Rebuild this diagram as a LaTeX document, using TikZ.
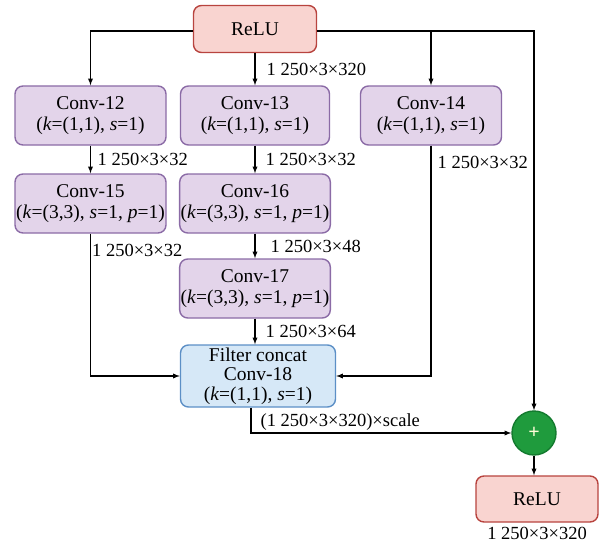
\documentclass[tikz,border=0pt]{standalone}
\usepackage{fontspec}
\setmainfont{Liberation Serif}
\usetikzlibrary{shapes, arrows, positioning}
\definecolor{reluborde}{HTML}{B8443F}
\definecolor{relufondo}{HTML}{F9D4D0}
\definecolor{convborde}{HTML}{8B6BA6}
\definecolor{convfondo}{HTML}{E3D4EA}
\definecolor{concatborde}{HTML}{5C8FC6}
\definecolor{concatfondo}{HTML}{D6E8F7}
\definecolor{sumaborde}{HTML}{137A2E}
\definecolor{sumafondo}{HTML}{1F9B3D}
\newcommand{\tam}[1]{1 250×3×#1}
\tikzstyle{bloque} = [rectangle, rounded corners=8pt, line width=1.4pt, align=center, inner sep=1pt, font=\fontsize{19.5}{20.5}\selectfont, minimum height=59pt]
\tikzstyle{relu} = [bloque, draw=reluborde, fill=relufondo, minimum width=123pt, minimum height=47pt]
\tikzstyle{conv} = [bloque, draw=convborde, fill=convfondo, minimum width=151pt]
\tikzstyle{concat} = [bloque, draw=concatborde, fill=concatfondo, minimum width=155pt, minimum height=62pt, font=\fontsize{19.5}{19.5}\selectfont]
\tikzstyle{suma} = [circle, draw=sumaborde, fill=sumafondo, line width=1.4pt, minimum size=44pt, inner sep=0pt, text=yellow!15, font=\fontsize{20}{20}\bfseries\selectfont]
\tikzstyle{etiqueta} = [inner sep=1pt, font=\fontsize{18.5}{20}\selectfont]
\tikzstyle{conector} = [-latex, line width=1.3pt]

\begin{document}
\begin{tikzpicture}[x=1pt, y=-1pt]
	\useasboundingbox (0,0) rectangle (603,551);
	% bloques
	\node[relu] (relu1) at (255,29) {ReLU};
	\node[conv] (c12) at (90.5,115.5) {Conv-12\\(\textit{k}=(1,1), \textit{s}=1)};
	\node[conv, minimum width=149pt] (c13) at (255,115.5) {Conv-13\\(\textit{k}=(1,1), \textit{s}=1)};
	\node[conv, minimum width=141pt] (c14) at (431,115.5) {Conv-14\\(\textit{k}=(1,1), \textit{s}=1)};
	\node[conv] (c15) at (90.5,203.5) {Conv-15\\(\textit{k}=(3,3), \textit{s}=1, \textit{p}=1)};
	\node[conv, minimum width=149pt] (c16) at (255,203.5) {Conv-16\\(\textit{k}=(3,3), \textit{s}=1, \textit{p}=1)};
	\node[conv, minimum width=149pt] (c17) at (255,288.5) {Conv-17\\(\textit{k}=(3,3), \textit{s}=1, \textit{p}=1)};
	\node[concat] (c18) at (258,376) {Filter concat\\Conv-18\\(\textit{k}=(1,1), \textit{s}=1)};
	\node[suma] (suma) at (534,433) {+};
	\node[relu, minimum width=122pt, minimum height=46pt] (relu2) at (537,499) {ReLU};
	\node[etiqueta, below=3pt of relu2] (t9) {\tam{320}};
	% conexiones
	\draw[conector] ([yshift=-2pt]relu1.west) -| (c12.north);
	\draw[conector] ([yshift=-2pt]relu1.east) -| (c14.north);
	\draw[conector] ([yshift=-2pt]relu1.east) -| (suma.north);
	\draw[conector] (relu1) -- node[etiqueta, right=10pt] (t1) {\tam{320}} (c13);
	\draw[conector] (c12) -- node[etiqueta, right=5.5pt] (t2) {\tam{32}} (c15);
	\draw[conector] (c13) -- node[etiqueta, right=9pt] (t3) {\tam{32}} (c16);
	\draw[conector] (c16) -- node[etiqueta, right=14pt] (t4) {\tam{48}} (c17);
	\draw[conector] (c17.south) -- node[etiqueta, right=9pt] (t5) {\tam{64}} (c17.south |- c18.north);
	\draw[conector] (c15.south) |- node[etiqueta, pos=0.06, right=0pt] (t6) {\tam{32}} (c18.west);
	\draw[conector] (c14.south) |- node[etiqueta, pos=0.037, right=5pt] (t7) {\tam{32}} (c18.east);
	\draw[conector] ([xshift=-7pt]c18.south) |- node[etiqueta, pos=0.5, anchor=south west, xshift=8pt, yshift=1pt] (t8) {(\tam{320})×scale} (suma.west);
	\draw[conector] (suma.south) -- (suma.south |- relu2.north);
\end{tikzpicture}
\end{document}
